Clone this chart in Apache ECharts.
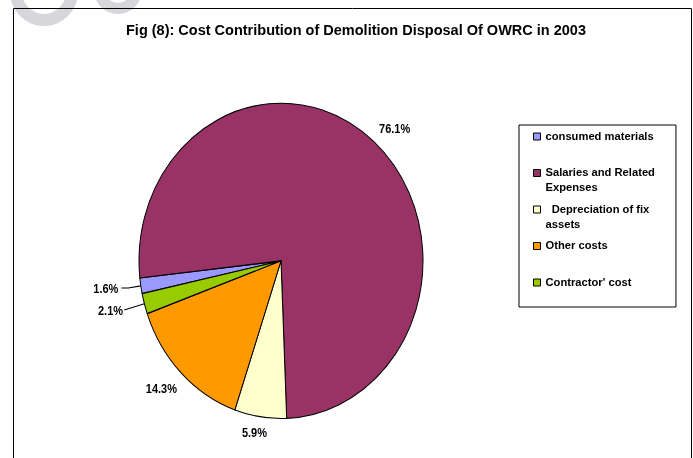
<!DOCTYPE html>
<html>
<head>
<meta charset="utf-8">
<script src="https://cdn.jsdelivr.net/npm/echarts@6/dist/echarts.min.js"></script>
<style>
  html, body { margin: 0; padding: 0; background: #fff; }
  #stage { position: relative; width: 693px; height: 458px; overflow: hidden; }
  #base { position: absolute; left: 0; top: 0; width: 693px; height: 458px; }
  /* the pie is drawn as an ellipse: taller than wide */
  #pie { position: absolute; left: 0; top: 0; width: 693px; height: 413px;
         transform: scaleY(1.11); transform-origin: 0 0; }
</style>
</head>
<body>
<div id="stage">
  <div id="base"></div>
  <div id="pie"></div>
</div>
<script>
// ---- data ----
const titleText = 'Fig (8): Cost Contribution of Demolition Disposal Of OWRC in 2003';
const categories = [
  'consumed materials',
  'Salaries and Related\nExpenses',
  '  Depreciation of fix\nassets',
  'Other costs',
  "Contractor' cost"
];
const shares = [1.6, 76.1, 5.9, 14.3, 2.1];   // percent of total cost

// ---- styling ----
const colors = ['#9999FF', '#993366', '#FFFFCC', '#FF9900', '#99CC00'];
const FONT = '"Liberation Sans", Arial, sans-serif';
// per-slice label placement: leader line lengths and text gap
const labelPlacement = [
  { line: true,  len: 12.6, len2: 7, gap: 3 },
  { line: false, len: 15.9, len2: 0, gap: -5 },
  { line: false, len: 13.9, len2: 0, gap: -8.6 },
  { line: false, len: 19.1, len2: 0, gap: -9.3 },
  { line: true,  len: 20.9, len2: 0, gap: 1.2 }
];

// ---- background layer: frame, title, legend ----
const base = echarts.init(document.getElementById('base'), null, { renderer: 'canvas' });
base.setOption({
  animation: false,
  backgroundColor: '#ffffff',
  title: {
    text: titleText,
    left: 121,
    top: 18,
    textStyle: { fontFamily: FONT, fontWeight: 'bold', fontSize: 14.5, color: '#000' }
  },
  legend: {
    orient: 'vertical',
    left: 519,
    top: 125,
    padding: [-11, 21, 2, 14],
    itemGap: -8.5,
    itemWidth: 7,
    itemHeight: 7,
    icon: 'rect',
    selectedMode: false,
    backgroundColor: '#fff',
    borderColor: '#000',
    borderWidth: 1,
    itemStyle: { borderColor: '#000', borderWidth: 1 },
    textStyle: { fontFamily: FONT, fontWeight: 'bold', fontSize: 11.2, lineHeight: 15, color: '#000' },
    // keep the swatch level with the first line of each entry
    formatter: function (name) {
      return name.indexOf('\n') >= 0 ? '\n' + name : '\n' + name + '\n';
    },
    data: categories
  },
  graphic: [
    { type: 'ring', silent: true, z: 0, shape: { cx: 44, cy: -8, r: 34, r0: 22 }, style: { fill: '#d7d7db' } },
    { type: 'ring', silent: true, z: 0, shape: { cx: 118, cy: -10, r: 24, r0: 13 }, style: { fill: '#d7d7db' } },
    { type: 'rect', silent: true, z: 1, shape: { x: 13.5, y: 8.5, width: 678, height: 600 },
      style: { fill: 'none', stroke: '#000', lineWidth: 1 } }
  ],
  series: [{
    // legend source only; the visible pie is drawn on the layer above
    type: 'pie',
    radius: 0,
    silent: true,
    label: { show: false },
    labelLine: { show: false },
    itemStyle: { borderWidth: 0 },
    data: categories.map((name, i) => ({ name: name, value: shares[i], itemStyle: { color: colors[i] } }))
  }]
});

// ---- pie layer ----
const pie = echarts.init(document.getElementById('pie'), null, { renderer: 'svg' });
pie.setOption({
  animation: false,
  series: [{
    type: 'pie',
    center: [281, 235],
    radius: 142,
    startAngle: 192,
    clockwise: true,
    avoidLabelOverlap: false,
    silent: true,
    emphasis: { disabled: true },
    itemStyle: { borderColor: '#000', borderWidth: 1 },
    label: {
      show: true,
      position: 'outside',
      color: '#000',
      fontFamily: FONT,
      fontWeight: 'bold',
      fontSize: 11,
      formatter: function (p) { return p.value.toFixed(1) + '%'; }
    },
    labelLine: { show: false, smooth: false, lineStyle: { color: '#000', width: 1 } },
    data: categories.map((name, i) => ({
      name: name,
      value: shares[i],
      itemStyle: { color: colors[i] },
      label: { distanceToLabelLine: labelPlacement[i].gap },
      labelLine: { show: labelPlacement[i].line, length: labelPlacement[i].len, length2: labelPlacement[i].len2 }
    }))
  }]
});
</script>
</body>
</html>
